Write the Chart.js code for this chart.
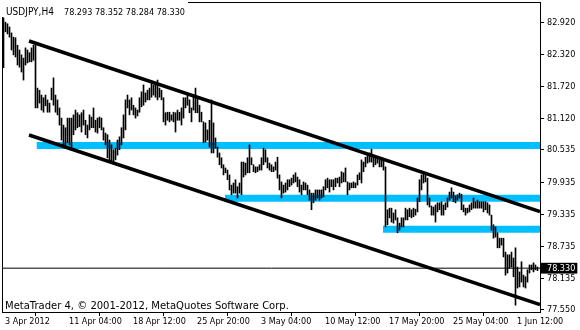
<!DOCTYPE html>
<html><head><meta charset="utf-8">
<script src="https://cdn.jsdelivr.net/npm/chart.js@4.4.1/dist/chart.umd.min.js"></script>
<style>html,body{margin:0;padding:0;background:#fff}canvas{display:block}</style>
</head><body>
<canvas id="c" width="580" height="330"></canvas>
<script>
const symbolTitle = "USDJPY,H4";
const lastQuote = ["78.293", "78.352", "78.284", "78.330"];
const copyright = "MetaTrader 4, \u00A9 2001-2012, MetaQuotes Software Corp.";

const highs = [
83.00,82.92,82.89,82.83,82.72,82.64,82.63,82.49,82.40,82.31,
82.25,82.44,82.40,82.35,82.44,82.49,82.53,81.69,81.65,81.56,
81.51,81.56,81.47,81.41,81.69,81.88,81.56,81.47,81.32,81.13,
81.00,80.95,81.13,81.13,81.13,81.19,81.28,81.23,81.19,81.23,
81.28,81.09,81.00,81.19,81.15,81.32,81.09,81.13,81.15,81.13,
80.95,80.85,80.82,80.72,80.63,80.54,80.57,80.72,80.78,80.95,
81.19,81.47,81.56,81.47,81.51,81.37,81.32,81.28,81.51,81.62,
81.75,81.60,81.65,81.69,81.79,81.75,81.79,81.84,81.69,81.65,
81.51,81.23,81.24,81.24,81.19,81.24,81.23,81.28,81.24,81.32,
81.51,81.51,81.56,81.47,81.32,81.56,81.69,81.52,81.37,81.24,
81.06,81.04,80.91,81.09,81.47,81.04,80.76,80.59,80.48,80.39,
80.26,80.20,80.16,80.07,79.88,79.92,79.98,79.85,79.92,80.31,
80.31,80.29,80.39,80.63,80.39,80.26,80.22,80.22,80.26,80.39,
80.57,80.54,80.39,80.29,80.26,80.22,80.31,80.40,80.07,79.94,
79.88,79.92,79.98,79.98,80.01,80.07,80.11,80.03,79.98,79.88,
79.94,79.92,79.88,79.79,79.73,79.73,79.79,79.79,79.79,79.79,
79.85,79.98,80.01,79.98,79.98,79.98,80.01,80.01,80.03,80.13,
80.11,80.20,79.94,79.92,79.92,79.94,79.92,80.07,80.11,80.35,
80.31,80.40,80.44,80.48,80.55,80.44,80.40,80.39,80.35,80.39,
80.35,80.22,79.42,79.45,79.45,79.36,79.42,79.27,79.17,79.27,
79.27,79.45,79.42,79.45,79.42,79.45,79.43,79.64,79.98,80.07,
80.11,80.07,80.01,79.64,79.49,79.47,79.51,79.55,79.55,79.57,
79.51,79.55,79.64,79.75,79.83,79.75,79.68,79.70,79.73,79.71,
79.51,79.45,79.45,79.51,79.55,79.64,79.57,79.60,79.57,79.57,
79.57,79.57,79.55,79.51,79.32,79.14,79.10,78.99,78.89,78.89,
78.89,78.63,78.58,78.58,78.63,78.52,78.71,78.35,78.26,78.45,
78.20,78.17,78.30,78.39,78.39,78.43,78.39,78.352
];
const lows = [
82.07,82.74,82.70,82.64,82.40,82.31,82.27,82.12,82.08,81.99,
81.84,82.12,82.16,82.18,82.18,82.21,81.32,81.32,81.41,81.28,
81.24,81.36,81.24,81.24,81.47,81.37,81.24,81.19,81.00,80.72,
80.63,80.57,80.67,80.63,80.57,80.82,80.91,80.95,80.97,80.87,
81.00,80.82,80.76,80.91,80.95,80.95,80.87,80.85,80.95,80.91,
80.72,80.63,80.39,80.35,80.29,80.29,80.35,80.44,80.54,80.63,
80.76,80.91,81.32,81.19,81.28,81.19,81.13,81.17,81.24,81.34,
81.37,81.43,81.47,81.47,81.52,81.56,81.52,81.47,81.52,81.47,
81.06,81.00,81.09,81.06,81.09,81.06,80.87,81.09,81.09,81.00,
81.13,81.32,81.37,81.23,81.06,81.28,81.23,81.23,81.06,81.06,
80.67,80.68,80.72,80.59,80.48,80.48,80.57,80.40,80.26,80.20,
80.07,80.11,79.98,79.79,79.70,79.73,79.73,79.64,79.73,79.70,
80.03,80.07,80.11,80.11,80.26,80.13,80.11,80.13,80.16,80.16,
80.26,80.31,80.20,80.16,80.13,80.13,80.16,80.01,79.79,79.64,
79.73,79.75,79.79,79.85,79.88,79.92,79.94,79.85,79.75,79.70,
79.79,79.79,79.70,79.60,79.42,79.55,79.60,79.64,79.60,79.64,
79.66,79.79,79.83,79.75,79.85,79.79,79.85,79.92,79.85,79.92,
79.94,79.94,79.70,79.79,79.83,79.83,79.83,79.88,79.98,79.92,
80.13,80.22,80.29,80.31,80.31,80.22,80.26,80.29,80.22,80.22,
80.16,79.10,79.14,79.27,79.19,79.17,79.23,78.99,79.04,79.10,
79.10,79.23,79.23,79.29,79.27,79.29,79.32,79.38,79.57,79.79,
79.92,79.94,79.51,79.47,79.32,79.32,79.19,79.38,79.42,79.32,
79.32,79.42,79.47,79.60,79.64,79.57,79.55,79.60,79.64,79.42,
79.38,79.32,79.36,79.38,79.42,79.45,79.45,79.45,79.45,79.45,
79.38,79.42,79.36,79.32,79.04,78.89,78.91,78.71,78.71,78.76,
78.54,78.20,78.24,78.33,78.35,78.17,77.64,77.96,77.98,78.07,
77.98,77.96,78.07,78.24,78.30,78.26,78.30,78.284
];

const yTickValues = [77.550, 78.135, 78.735, 79.335, 79.935, 80.535, 81.120, 81.720, 82.320, 82.920];
const currentPrice = 78.330;
const xTickBars = [0, 32, 64, 96, 128, 160, 192, 224, 256];
const xTickLabels = ["3 Apr 2012", "11 Apr 04:00", "18 Apr 12:00", "25 Apr 20:00", "3 May 04:00", "10 May 12:00", "17 May 20:00", "25 May 04:00", "1 Jun 12:00"];

// trend channel anchors: [bar index, price]
const channelUpper = [[12.75, 82.569], [268.25, 79.388]];
const channelLower = [[12.75, 80.815], [268.25, 77.649]];
// horizontal levels: start bar index and price
const levelStarts = [16.6, 110.75, 189.75];
const levelPrices = [80.62, 79.634, 79.056];

const X_MIN = -0.25, X_MAX = 268.25;
const Y_MIN = 77.5126, Y_MAX = 83.2775;

const FONT = "'DejaVu Sans Condensed', 'DejaVu Sans', sans-serif";
const FONT_WIDE = "'DejaVu Sans', sans-serif";
Chart.defaults.font.family = FONT;
Chart.defaults.font.size = 9;
Chart.defaults.color = '#000';

const barData = highs.map((h, i) => ({ x: i, y: [lows[i], h] }));

const datasets = [];
levelStarts.forEach((s, k) => {
  datasets.push({
    type: 'line', data: [{ x: s, y: levelPrices[k] }, { x: X_MAX, y: levelPrices[k] }],
    borderColor: '#00BFFF', borderWidth: 7, pointRadius: 0, tension: 0, order: 4
  });
});
datasets.push({
  type: 'bar', data: barData, backgroundColor: '#000', borderWidth: 0,
  barThickness: 1, order: 3
});
[channelUpper, channelLower].forEach(ch => {
  datasets.push({
    type: 'line', data: ch.map(p => ({ x: p[0], y: p[1] })),
    borderColor: '#000', borderWidth: 3.5, pointRadius: 0, tension: 0, order: 2
  });
});
datasets.push({
  type: 'line', data: [{ x: X_MIN, y: currentPrice }, { x: X_MAX, y: currentPrice }],
  borderColor: '#000', borderWidth: 1, pointRadius: 0, tension: 0, order: 1
});

const mt4Plugin = {
  id: 'mt4',
  afterDraw(chart) {
    const ctx = chart.ctx, a = chart.chartArea;
    ctx.save();
    ctx.strokeStyle = '#000';
    ctx.lineWidth = 1;
    ctx.beginPath();
    ctx.moveTo(188, a.top - 0.5); ctx.lineTo(a.right + 1, a.top - 0.5);
    ctx.moveTo(a.left - 0.5, 17); ctx.lineTo(a.left - 0.5, a.bottom + 1);
    ctx.stroke();
    ctx.fillStyle = '#000';
    ctx.textBaseline = 'alphabetic';
    ctx.textAlign = 'left';
    ctx.font = '10px ' + FONT;
    ctx.fillText(symbolTitle, 6, 15);
    ctx.font = '9px ' + FONT;
    ctx.fillText(lastQuote.join(' '), 64, 15);
    ctx.font = '10px ' + FONT_WIDE;
    ctx.fillText(copyright, 5, 309);
    ctx.restore();
  }
};

new Chart(document.getElementById('c'), {
  type: 'bar',
  data: { datasets },
  options: {
    responsive: false, animation: false, devicePixelRatio: 1,
    layout: { padding: { left: 3, top: 3, right: 0, bottom: 0 }, autoPadding: false },
    plugins: { legend: { display: false }, tooltip: { enabled: false } },
    scales: {
      x: {
        type: 'linear', min: X_MIN, max: X_MAX, bounds: 'data', offset: false,
        afterBuildTicks: s => { s.ticks = xTickBars.map(v => ({ value: v })); },
        afterFit: s => { s.height = 18; s.paddingLeft = 0; s.paddingRight = 0; },
        grid: { drawOnChartArea: false, drawTicks: true, tickLength: 4, color: '#000' },
        border: { display: true, color: '#000', width: 1 },
        ticks: {
          align: 'start', padding: 0, labelOffset: 1.5, maxRotation: 0, minRotation: 0, autoSkip: false,
          color: '#000', font: { size: 9, family: FONT },
          callback: v => { const k = xTickBars.indexOf(v); return k >= 0 ? xTickLabels[k] : ''; }
        }
      },
      y: {
        type: 'linear', position: 'right', min: Y_MIN, max: Y_MAX, bounds: 'data',
        afterBuildTicks: s => { s.ticks = yTickValues.concat([currentPrice]).sort((p, q) => p - q).map(v => ({ value: v })); },
        afterFit: s => { s.width = 40; s.paddingTop = 0; s.paddingBottom = 0; },
        grid: { drawOnChartArea: false, drawTicks: true, tickLength: 4, color: '#000' },
        border: { display: true, color: '#000', width: 1 },
        ticks: {
          padding: 3, autoSkip: false, font: { size: 9, family: FONT },
          color: ctx => (ctx.tick && ctx.tick.value === currentPrice) ? '#fff' : '#000',
          showLabelBackdrop: ctx => !!(ctx.tick && ctx.tick.value === currentPrice),
          backdropColor: '#000',
          backdropPadding: { left: 6, right: 2, top: 0, bottom: 0 },
          callback: v => Number(v).toFixed(3)
        }
      }
    }
  },
  plugins: [mt4Plugin]
});
</script>
</body></html>
